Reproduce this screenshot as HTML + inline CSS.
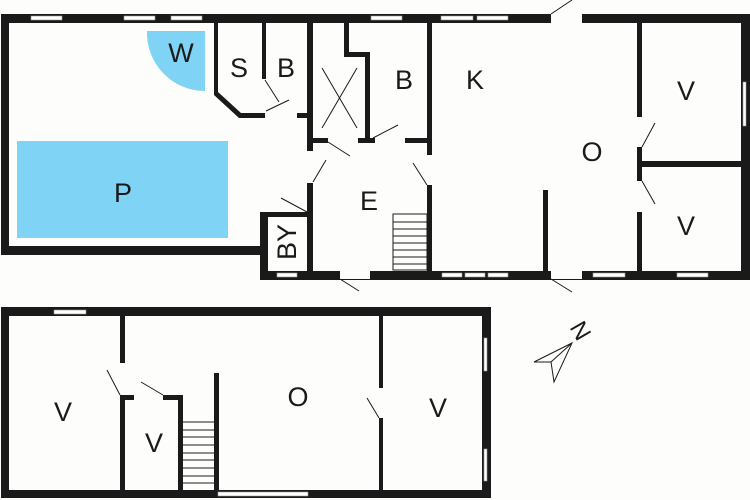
<!DOCTYPE html>
<html><head><meta charset="utf-8"><style>
html,body{margin:0;padding:0;background:#fdfdfb;width:750px;height:500px;overflow:hidden}
svg{display:block}
text{font-family:"Liberation Sans",sans-serif;font-size:27px;fill:#1a1a1a;text-anchor:middle;dominant-baseline:central}
</style></head><body>
<svg width="750" height="500" viewBox="0 0 750 500" xmlns="http://www.w3.org/2000/svg">
<rect width="750" height="500" fill="#fdfdfb"/>
<rect x="17" y="141" width="211" height="97" fill="#7fd3f5"/>
<path d="M205 31 L147 31 A58 58 0 0 0 205 91 Z" fill="#7fd3f5"/>
<g fill="#1a1a1a">
<rect x="1" y="14" width="749" height="9"/>
<rect x="1" y="14" width="8" height="241"/>
<rect x="1" y="246" width="267" height="9"/>
<rect x="260" y="212" width="8" height="68"/>
<rect x="260" y="271" width="490" height="9"/>
<rect x="741" y="14" width="9" height="266"/>
<rect x="214" y="23" width="4" height="70"/>
<path d="M214 92 L218 92 L241 113 L265 113 L265 118 L239 118 L214 95 Z"/>
<rect x="262" y="23" width="4" height="56"/>
<rect x="297" y="113" width="12" height="5"/>
<rect x="307" y="23" width="6" height="128"/>
<rect x="307" y="183" width="6" height="96"/>
<rect x="260" y="212" width="50" height="5"/>
<rect x="344" y="23" width="5" height="33"/>
<rect x="344" y="52" width="26" height="5"/>
<rect x="365" y="52" width="5" height="91"/>
<rect x="310" y="138" width="18" height="5"/>
<rect x="358" y="138" width="17" height="5"/>
<rect x="405" y="138" width="24" height="5"/>
<rect x="427" y="23" width="5" height="132"/>
<rect x="427" y="185" width="5" height="94"/>
<rect x="637" y="23" width="5" height="94"/>
<rect x="637" y="147" width="5" height="34"/>
<rect x="637" y="212" width="5" height="65"/>
<rect x="642" y="161" width="100" height="6"/>
<rect x="543" y="190" width="5" height="85"/>
<rect x="1" y="307" width="490" height="9"/>
<rect x="1" y="307" width="8" height="191"/>
<rect x="1" y="490" width="490" height="8"/>
<rect x="482" y="307" width="9" height="191"/>
<rect x="120" y="316" width="5" height="47"/>
<rect x="120" y="395" width="5" height="97"/>
<rect x="120" y="395" width="14" height="5"/>
<rect x="163" y="395" width="20" height="5"/>
<rect x="178" y="395" width="5" height="97"/>
<rect x="214" y="373" width="5" height="119"/>
<rect x="379" y="316" width="4" height="72"/>
<rect x="379" y="418" width="4" height="74"/>
</g>
<g fill="#fdfdfb">
<rect x="551" y="14" width="31" height="9"/>
<rect x="551" y="271" width="31" height="8"/>
<rect x="340" y="271" width="30" height="8"/>
</g>
<g fill="#fff" stroke="#999" stroke-width="0.6">
<rect x="31" y="16" width="31" height="4"/>
<rect x="124" y="16" width="31" height="4"/>
<rect x="171" y="16" width="31" height="4"/>
<rect x="371" y="16" width="31" height="4"/>
<rect x="441" y="16" width="32" height="4"/>
<rect x="477" y="16" width="31" height="4"/>
<rect x="743" y="82" width="3" height="44"/>
<rect x="442" y="273" width="20" height="4"/>
<rect x="465" y="273" width="20" height="4"/>
<rect x="488" y="273" width="20" height="4"/>
<rect x="593" y="273" width="32" height="4"/>
<rect x="677" y="273" width="31" height="4"/>
<rect x="277" y="273" width="20" height="4"/>
<rect x="54" y="310" width="32" height="4"/>
<rect x="218" y="492" width="90" height="4"/>
<rect x="484" y="338" width="3" height="33"/>
<rect x="484" y="449" width="3" height="32"/>
</g>
<g stroke="#1a1a1a" stroke-width="1" fill="none">
<rect x="393" y="214" width="34" height="56"/>
<path d="M393 222h34M393 229h34M393 236h34M393 243h34M393 250h34M393 257h34M393 264h34"/>
<path d="M183 422h31M183 430h31M183 437h31M183 445h31M183 453h31M183 460h31M183 468h31M183 476h31M183 483h31"/>
<path d="M322 68 L357 128 M357 68 L322 128"/>
<path d="M265 80 L279 102 M266 111 L289 100"/>
<path d="M328 142 L350 156 M373 138 L398 125"/>
<path d="M313 182 L326 160 M413 163 L427 185"/>
<path d="M281 198 L307 212"/>
<path d="M340 279 L359 291 M551 14 L572 0 M551 279 L572 292"/>
<path d="M642 147 L655 123 M642 181 L655 204"/>
<path d="M120 395 L107 370 M163 395 L141 382 M379 418 L367 398"/>
<path d="M572 343 L534 362 L551 362 L554 382 Z M572 343 L551 362"/>
</g>
<text x="580" y="331" style="font-size:24px" transform="rotate(60 580 331)">N</text>
<text x="181" y="53">W</text>
<text x="239" y="68">S</text>
<text x="286" y="68">B</text>
<text x="404" y="80">B</text>
<text x="475" y="80">K</text>
<text x="592" y="152">O</text>
<text x="686" y="91">V</text>
<text x="686" y="226">V</text>
<text x="123" y="193">P</text>
<text x="369" y="201">E</text>
<text x="287" y="242" transform="rotate(-90 287 242)">BY</text>
<text x="63" y="412">V</text>
<text x="154" y="443">V</text>
<text x="298" y="397">O</text>
<text x="438" y="408">V</text>
</svg>
</body></html>
